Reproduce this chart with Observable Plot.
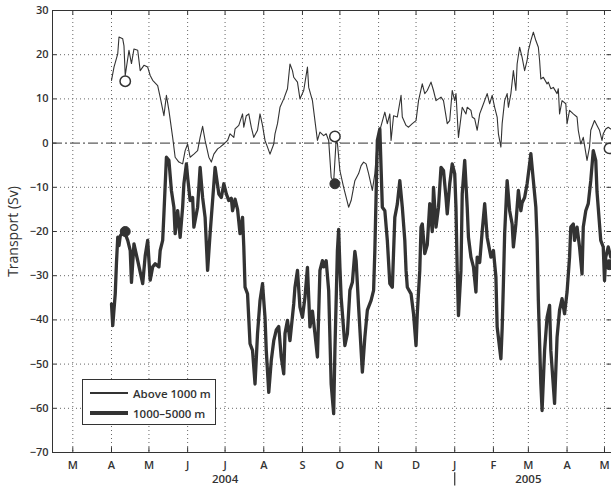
<!DOCTYPE html>
<html>
<head>
<meta charset="utf-8">
<script src="https://cdn.jsdelivr.net/npm/d3@7"></script>
<script src="https://cdn.jsdelivr.net/npm/@observablehq/plot@0.6"></script>
<style>
  body { margin: 0; background: #fff; }
  #chart { position: relative; width: 611px; height: 486px; font-family: "Open Sans", sans-serif; color: #333; }
  #chart svg { display: block; }
  .legend { position: absolute; left: 82px; top: 379px; width: 132px; height: 44px; border: 1px solid #333; background: #fff; }
  .legend .row { position: absolute; left: 0; height: 16px; display: flex; align-items: center; font-size: 11.5px; font-weight: 600; white-space: nowrap; }
  .legend .swatch { width: 38px; margin-left: 7px; margin-right: 5px; background: #333; }
</style>
</head>
<body>
<div id="chart"></div>
<script>
// Transport time series, days counted from 1 April 2004
const seriesStart = Date.UTC(2004, 3, 1);

// Transport above 1000 m (Sv)
const aboveDay = [0,2,5,6,9,10,11,14,16,18,21,23,26,29,31,33,37,39,42,44,46,49,51,54,57,59,61,63,66,69,71,73,75,78,80,82,85,87,90,93,95,98,99,102,105,106,108,110,112,114,117,119,121,123,125,127,130,131,133,135,138,141,143,145,146,149,151,154,157,158,161,163,165,167,170,172,174,176,178,180,181,183,186,190,192,195,198,200,202,204,206,209,211,213,215,219,221,223,224,226,229,232,233,236,238,241,244,246,249,251,253,256,258,260,264,266,269,271,273,275,276,278,281,284,285,288,289,291,293,295,297,300,301,303,305,307,309,310,312,313,315,317,318,320,322,324,325,327,329,331,333,334,336,338,340,342,343,344,346,349,350,352,354,357,358,359,361,364,365,367,370,373,374,376,378,381,383,384,387,389,391,393,394,396,398,400];
const aboveSv = [14.2,17.2,20.2,24.0,23.6,22,15.3,21,18,21.3,21,16.4,17.6,17.2,15.3,14.2,13.0,10.4,6.2,10.8,7.4,1.3,-3.2,-4.3,-4.7,-1.7,-0.2,-3.2,-2.5,-1.7,1.3,3.8,0.6,-3.2,-4.3,-2.5,-1.3,-0.9,-0.2,0.6,2.1,1.3,3.2,4.0,6.6,3.6,6.2,6.6,3.6,1.3,2.9,6.6,4.0,0.6,-0.9,-2.5,-0.2,2.1,4.4,8.1,10.0,12.3,17.9,16.4,14.9,13.8,10.0,11.9,17.2,12.6,9.6,5.1,0.6,2.5,1.7,2.1,0.6,-7.7,-8.8,0.8,0,-6.2,-10.0,-14.5,-13.0,-8.5,-6.9,-5.1,-4.3,-4.7,-6.9,-10.7,-6.9,0.6,2.9,7.0,4.4,6.6,0.6,6.2,5.9,10.8,5.9,4.0,3.6,4.4,5.1,9.6,13.4,11.2,11.9,13.8,11.9,9.6,10.4,9.6,4.4,5.1,11.9,9.6,11.2,1.3,8.1,6.6,8.1,7.4,5.9,5.5,2.9,6.6,8.1,10.4,11.2,8.9,10.8,8.1,5.9,2.1,-0.9,4.4,9.6,11.2,8.1,11.2,16.4,11.9,17.9,21.7,19.4,16.4,18.7,20.9,23.2,25.1,23.2,21.7,18.7,14.5,14.9,13.4,13.8,12.3,12.6,11.2,12.3,6.6,9.6,8.9,4.4,7.4,6.6,5.9,2.9,-0.2,1.3,-3.9,-0.9,2.9,5.1,4.0,2.9,0.6,2.1,3.2,3.6,3.2];

// Transport between 1000 and 5000 m (Sv)
const deepDay = [0,1,3,4,5,6,7,10,13,15,16,18,21,25,27,29,31,33,35,38,39,41,42,44,46,48,50,51,53,55,57,58,60,61,63,65,66,69,71,73,75,77,79,81,83,86,88,90,92,94,96,97,99,101,103,105,106,107,109,111,113,115,117,119,121,123,124,126,128,130,132,134,136,138,139,141,143,146,147,149,151,153,155,157,159,161,163,165,167,169,170,172,174,176,178,179,181,182,183,184,187,189,191,193,195,196,198,201,203,205,208,210,211,213,215,217,219,221,223,225,227,229,231,233,235,236,237,240,242,244,245,247,248,249,251,253,255,257,258,260,262,264,266,268,269,271,273,275,276,277,278,280,281,283,285,286,288,290,292,293,295,297,299,301,304,306,308,309,312,313,314,315,317,319,321,322,324,326,328,329,331,333,335,336,338,340,341,342,344,345,347,349,351,352,355,357,359,361,363,365,367,368,370,371,373,375,377,378,380,382,384,386,388,389,392,394,395,396,398,400];
const deepSv = [-36.4,-41.3,-34.1,-27,-21.3,-23.2,-21.0,-19.8,-22.0,-24.3,-31.5,-22.8,-26.6,-31.8,-25.5,-22.0,-31.0,-28.0,-27.3,-28,-24.3,-22,-16.0,-3.2,-3.9,-10.7,-14.5,-20.5,-15.3,-21.3,-14.5,-9.2,-4.7,-7.7,-13,-12.3,-19.0,-14.5,-5.5,-12.3,-16.8,-28.8,-20.5,-13,-5.5,-11.5,-12.3,-9.2,-11.5,-13,-12.5,-15.3,-12.7,-15,-20.5,-16.8,-23.5,-32.6,-34.1,-45.4,-46.9,-54.5,-43.1,-35.6,-31.8,-39.4,-46.9,-56.4,-49.2,-44.7,-42.3,-41.5,-48.4,-52.2,-43.1,-40.1,-44.7,-36.4,-32.6,-28.8,-37.1,-39.4,-34.9,-28.1,-41.6,-38,-43.1,-48.4,-28.8,-26.6,-28,-26.6,-33.3,-54.5,-61.2,-46.9,-24.3,-19.5,-28,-34.9,-45.8,-43.1,-33.3,-31.5,-24.5,-26.6,-37.1,-51.8,-43.9,-37.8,-35.6,-33.3,-24.3,0.6,3.2,-14.5,-15.3,-22,-31.8,-32.6,-16.8,-13.8,-8.5,-14.5,-22,-28.8,-32.6,-34.1,-38.6,-45.8,-38.6,-28.8,-19,-18.3,-25,-23,-13.7,-20,-10,-19,-14.5,-5.5,-6.2,-12.3,-16,-9.2,-4.7,-6.9,-14.5,-28.8,-39.0,-28.8,-11.5,-3.9,-14.5,-21.3,-25.8,-28,-33.7,-25.8,-27,-20,-13.7,-21.3,-25.8,-24.3,-30.3,-41.6,-48.8,-42,-31.8,-20.5,-8.5,-15.3,-18.3,-23.5,-18.3,-10.7,-15.3,-13.5,-12.3,-9.2,-4.7,-2.4,-8.5,-14.5,-22,-35.6,-54.5,-60.5,-46.9,-39.4,-36.7,-46.9,-58.9,-43.9,-37.8,-35.2,-38.6,-33.7,-25.8,-19,-18.3,-22,-19,-23.5,-29.6,-19,-15.3,-13.7,-8.5,-1.7,-3.9,-11,-22,-23.5,-31.1,-25.8,-23.5,-25.8];

// Independent estimates (open: above 1000 m, filled: 1000–5000 m)
const obsDay = [11, 179, 399];
const obsAbove = [14, 1.5, -1.2];
const obsDeep = [-20, -9.2, -27.5];

// Axis ticks and labels
const svTicks = [-70, -60, -50, -40, -30, -20, -10, 0, 10, 20, 30];
const monthInitials = "JFMAMJJASOND";
const yearLabels = [
  {date: "2004-07-01", text: "2004"},
  {date: "2005-03-01", text: "2005"}
];
const yearBreak = ["2005-01-01"];

const dayMs = 864e5;
const toDate = d => new Date(seriesStart + d * dayMs);
const above = aboveDay.map((d, i) => ({date: toDate(d), sv: aboveSv[i]}));
const deep = deepDay.map((d, i) => ({date: toDate(d), sv: deepSv[i]}));
const obs = obsDay.map((d, i) => ({date: toDate(d), above: obsAbove[i], deep: obsDeep[i]}));
const years = yearLabels.map(d => ({date: new Date(d.date), text: d.text}));
const breaks = yearBreak.map(d => new Date(d));

const x0 = new Date("2004-02-13T17:30Z");
const x1 = new Date("2005-05-06T14:40Z");
const months = d3.utcMonth.range(new Date("2004-03-01"), new Date("2005-05-02"));
const tickLen = 3.6 * dayMs;
const ink = "#333";

const chart = Plot.plot({
  width: 611,
  height: 486,
  marginTop: 10,
  marginBottom: 34,
  marginLeft: 52,
  marginRight: 0,
  style: {fontFamily: "'Open Sans', sans-serif", fontSize: "11px", fontWeight: 600, color: ink, background: "#fff"},
  x: {type: "utc", domain: [x0, x1]},
  y: {domain: [-70, 30]},
  marks: [
    // dotted grid
    Plot.ruleX(months, {stroke: "#666", strokeDasharray: "1,3", strokeWidth: 1}),
    Plot.ruleY(svTicks.filter(v => v !== 0 && v > -70 && v < 30), {stroke: "#666", strokeDasharray: "1,3", strokeWidth: 1}),
    // zero line
    Plot.ruleY([0], {stroke: ink, strokeDasharray: "10,3,2,3", strokeWidth: 1}),
    // box and inward ticks
    Plot.ruleY([30, -70], {stroke: ink, strokeWidth: 1}),
    Plot.ruleX([x0], {stroke: ink, strokeWidth: 1}),
    Plot.ruleX(months, {y1: -70, y2: -68.9, stroke: ink}),
    Plot.ruleX(months, {y1: 30, y2: 28.9, stroke: ink}),
    Plot.ruleY(svTicks, {x1: x0, x2: new Date(+x0 + tickLen), stroke: ink}),
    Plot.ruleY(svTicks, {x1: new Date(+x1 - tickLen), x2: x1, stroke: ink}),
    // series
    Plot.line(deep, {x: "date", y: "sv", stroke: ink, strokeWidth: 3.3, strokeLinejoin: "round", strokeLinecap: "round"}),
    Plot.line(above, {x: "date", y: "sv", stroke: ink, strokeWidth: 1.1, strokeLinejoin: "round"}),
    Plot.dot(obs, {x: "date", y: "above", r: 5.2, fill: "#fff", stroke: ink, strokeWidth: 1.5}),
    Plot.dot(obs, {x: "date", y: "deep", r: 5, fill: ink, stroke: ink, strokeWidth: 1}),
    // axes
    Plot.axisX({ticks: months, tickFormat: d => monthInitials[d.getUTCMonth()], tickSize: 0, tickPadding: 8.5, label: null}),
    Plot.axisY({ticks: svTicks, tickSize: 0, tickPadding: 4, label: null}),
    Plot.text(["Transport (Sv)"], {frameAnchor: "left", textAnchor: "middle", lineAnchor: "middle", rotate: -90, dx: -39, fontSize: 14, fontWeight: 500, fill: ink}),
    Plot.text(years, {x: "date", text: "text", frameAnchor: "bottom", lineAnchor: "middle", dy: 27, fontSize: 11.5, fill: ink}),
    // year boundary marker below the month labels
    Plot.ruleX(breaks, {y1: -74.6, y2: -77.6, stroke: ink, strokeWidth: 1.2})
  ]
});

const root = document.getElementById("chart");
root.appendChild(chart);

// legend box inside the plot
const legend = document.createElement("div");
legend.className = "legend";
legend.innerHTML =
  '<div class="row" style="top:5px"><span class="swatch" style="height:1.2px"></span>Above 1000 m</div>' +
  '<div class="row" style="top:25px"><span class="swatch" style="height:3.5px"></span>1000–5000 m</div>';
root.appendChild(legend);
</script>
</body>
</html>
